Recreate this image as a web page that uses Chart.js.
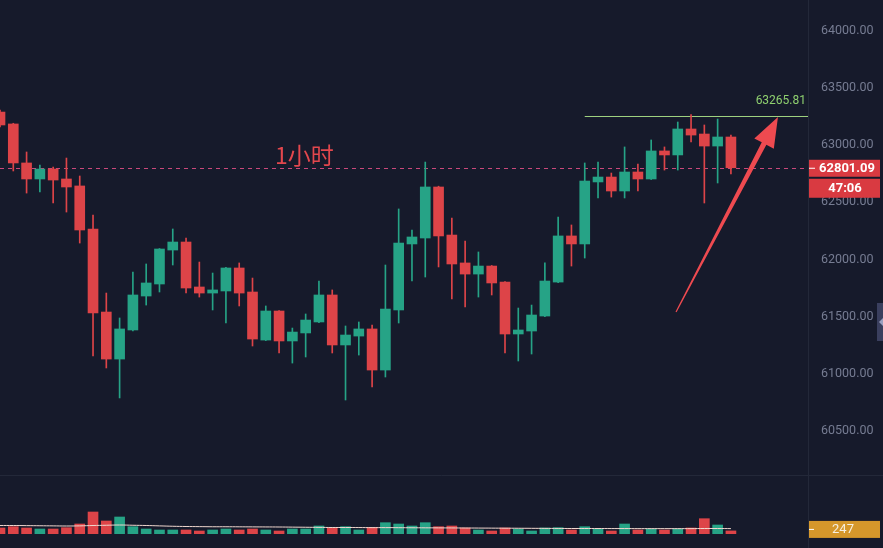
<!DOCTYPE html>
<html>
<head>
<meta charset="utf-8">
<script src="https://cdn.jsdelivr.net/npm/chart.js@4.4.1/dist/chart.umd.min.js"></script>
<style>
  html, body { margin: 0; padding: 0; background: #161a2b; }
  #wrap { width: 883px; height: 548px; position: relative; }
</style>
</head>
<body>
<div id="wrap"><canvas id="kline" width="883" height="548"></canvas></div>
<script>
// hourly candles
var opens  = [63288,63184,62843,62703,62790,62703,62642,62266,61540,61129,61383,61680,61785,62082,62152,61759,61706,61724,61925,61715,61295,61549,61287,61357,61453,61689,61252,61330,61392,61033,61558,62135,62187,62633,62213,61969,61872,61942,61802,61348,61374,61505,61802,62205,62135,62677,62720,62598,62764,62703,62948,62913,63140,63096,62991,63070];
var highs  = [63306,63190,62939,62825,62808,62886,62729,62388,61706,61488,61890,61960,62095,62266,62187,61977,61881,61930,61969,61837,61593,61553,61400,61523,61811,61733,61418,61453,61427,61951,62441,62257,62851,62640,62362,62161,62065,61947,61806,61575,61601,61969,62371,62301,62843,62851,62755,62983,62834,63044,62983,63201,63265.81,63175,63227,63087];
var lows   = [63157,62773,62580,62589,62493,62414,62143,61156,61051,60789,61375,61601,61715,61951,61706,61671,61558,61444,61593,61243,61290,61182,61094,61147,61448,61182,60771,61164,60885,60972,61444,61811,61846,61934,61654,61584,61671,61689,61182,61112,61173,61500,61797,61942,62012,62537,62545,62537,62598,62698,62781,62781,63026,62493,62668,62747];
var closes = [63175,62843,62703,62790,62694,62633,62257,61532,61129,61392,61689,61794,62091,62152,61750,61706,61733,61925,61706,61304,61549,61287,61365,61470,61689,61252,61339,61392,61033,61566,62143,62196,62633,62205,61960,61872,61942,61794,61348,61383,61514,61811,62205,62135,62685,62720,62598,62764,62703,62948,62913,63140,63087,62991,63070,62801.09];
var volumes = [480,585,480,400,400,505,800,1760,1040,1360,585,400,320,320,320,240,320,400,320,400,320,240,400,400,640,505,585,320,535,905,800,640,905,585,640,480,320,240,480,400,240,480,505,320,585,400,240,800,320,400,320,400,480,1225,720,247];
var volMA = [680,680,670,660,650,640,650,680,700,720,700,680,650,620,600,590,580,580,575,570,565,560,550,540,530,520,520,515,510,510,505,500,495,490,485,480,475,470,465,460,455,450,445,440,440,440,435,435,430,430,430,430,430,440,440,430];
var priceTicks = [60500,61000,61500,62000,62500,63000,63500,64000];

var lastPrice = 62801.09;
var markHigh = 63265.81;
var countdown = '47:06';

var up = '#26a386';
var down = '#dd4448';

var idx = opens.map(function (o, i) { return i; });
function colorOf(i) { return closes[i] >= opens[i] ? up : down; }

var overlay = {
  id: 'overlay',
  beforeDatasetsDraw: function (chart) {
    var ctx = chart.ctx, a = chart.chartArea;
    var y = chart.scales.y, x = chart.scales.x;
    ctx.save();
    // panel separators
    ctx.strokeStyle = '#232839';
    ctx.lineWidth = 1;
    ctx.beginPath();
    ctx.moveTo(0, 475.5); ctx.lineTo(883, 475.5);
    ctx.moveTo(a.right + 0.5, 0); ctx.lineTo(a.right + 0.5, 548);
    ctx.stroke();
    // last price dashed line
    var py = Math.round(y.getPixelForValue(lastPrice)) + 0.5;
    ctx.strokeStyle = '#c9487a';
    ctx.setLineDash([4, 4]);
    ctx.beginPath(); ctx.moveTo(a.left, py); ctx.lineTo(a.right, py); ctx.stroke();
    ctx.setLineDash([]);
    // high line
    var hy = Math.round(y.getPixelForValue(markHigh)) + 1.5;
    ctx.strokeStyle = '#9ed17f';
    ctx.beginPath(); ctx.moveTo(x.getPixelForValue(44), hy); ctx.lineTo(a.right, hy); ctx.stroke();
    ctx.fillStyle = '#8fd06f';
    ctx.font = '12px Roboto';
    ctx.textAlign = 'right';
    ctx.textBaseline = 'middle';
    ctx.fillText(markHigh.toFixed(2), a.right - 2, hy - 16);
    // label
    ctx.fillStyle = '#e3474d';
    ctx.font = '23px "Noto Sans CJK SC"';
    ctx.textAlign = 'left';
    ctx.fillText('1小时', 275, 155);
    ctx.restore();
  },
  afterDraw: function (chart) {
    var ctx = chart.ctx, a = chart.chartArea;
    var y = chart.scales.y, x = chart.scales.x, v = chart.scales.v;
    ctx.save();
    // arrow
    var tx = x.getPixelForValue(50.87), ty = y.getPixelForValue(61540);
    var hx = x.getPixelForValue(58.54), hy = y.getPixelForValue(63245);
    var dx = hx - tx, dy = hy - ty, len = Math.sqrt(dx * dx + dy * dy);
    var ux = dx / len, uy = dy / len, nx = -uy, ny = ux;
    var bx = hx - ux * 30, by = hy - uy * 30;
    ctx.fillStyle = '#ee4a50';
    ctx.beginPath();
    ctx.moveTo(tx - nx * 0.6, ty - ny * 0.6);
    ctx.lineTo(bx - nx * 2.6, by - ny * 2.6);
    ctx.lineTo(bx - nx * 11, by - ny * 11);
    ctx.lineTo(hx, hy);
    ctx.lineTo(bx + nx * 11, by + ny * 11);
    ctx.lineTo(bx + nx * 2.6, by + ny * 2.6);
    ctx.lineTo(tx + nx * 0.6, ty + ny * 0.6);
    ctx.closePath();
    ctx.fill();

    // price tag + countdown
    var py = y.getPixelForValue(lastPrice);
    ctx.fillStyle = '#d93a41';
    ctx.fillRect(a.right + 1, py - 8, 71, 17);
    ctx.fillRect(a.right + 1, py + 11, 71, 19);
    ctx.strokeStyle = '#ffffff';
    ctx.beginPath(); ctx.moveTo(a.right + 1, py + 0.5); ctx.lineTo(a.right + 7, py + 0.5); ctx.stroke();
    ctx.fillStyle = '#ffffff';
    ctx.font = 'bold 13px Roboto';
    ctx.textAlign = 'center';
    ctx.textBaseline = 'middle';
    ctx.fillText(lastPrice.toFixed(2), a.right + 39, py + 1);
    ctx.fillText(countdown, a.right + 37, py + 21);

    // volume tag
    var vy = v.getPixelForValue(volumes[volumes.length - 1]);
    ctx.fillStyle = '#d5972b';
    ctx.fillRect(a.right + 1, vy - 10, 71, 17);
    ctx.strokeStyle = '#ffffff';
    ctx.beginPath(); ctx.moveTo(a.right + 1, vy - 1.5); ctx.lineTo(a.right + 6, vy - 1.5); ctx.stroke();
    ctx.fillStyle = '#f6efe0';
    ctx.font = '13px Roboto';
    ctx.fillText(String(volumes[volumes.length - 1]), a.right + 35, vy - 1);

    // side handle
    ctx.fillStyle = '#3a3f5e';
    ctx.fillRect(877, 303, 6, 38);
    ctx.fillStyle = '#9aa0c0';
    ctx.beginPath(); ctx.moveTo(879, 322); ctx.lineTo(883, 318); ctx.lineTo(883, 326); ctx.closePath(); ctx.fill();
    ctx.restore();
  }
};

var chart = new Chart(document.getElementById('kline'), {
  data: {
    datasets: [
      {
        type: 'bar', label: 'volume', yAxisID: 'v', grouped: false,
        data: idx.map(function (i) { return { x: i, y: volumes[i] }; }),
        backgroundColor: idx.map(function (i) { return colorOf(i); }),
        barThickness: 10, order: 3
      },
      {
        type: 'line', label: 'vol ma', yAxisID: 'v',
        data: idx.map(function (i) { return { x: i, y: volMA[i] }; }),
        borderColor: '#f1d8cf', borderWidth: 1, pointRadius: 0, tension: 0.4, order: 2
      },
      {
        type: 'bar', label: 'wick', yAxisID: 'y', grouped: false,
        data: idx.map(function (i) { return { x: i, y: [lows[i], highs[i]] }; }),
        backgroundColor: idx.map(function (i) { return colorOf(i); }),
        barThickness: 1, order: 1
      },
      {
        type: 'bar', label: 'body', yAxisID: 'y', grouped: false,
        data: idx.map(function (i) { return { x: i, y: [opens[i], closes[i]] }; }),
        backgroundColor: idx.map(function (i) { return colorOf(i); }),
        barThickness: 10, minBarLength: 1, order: 0
      }
    ]
  },
  options: {
    responsive: false,
    devicePixelRatio: 1,
    animation: false,
    layout: { padding: { left: 0, right: 0, top: 0, bottom: 14 } },
    plugins: { legend: { display: false }, tooltip: { enabled: false } },
    scales: {
      x: { type: 'linear', min: 0, max: 60.8, offset: false, display: false },
      y: {
        position: 'right', min: 59599.7, max: 64267.5,
        grid: { display: false, drawTicks: false },
        border: { display: false },
        ticks: {
          padding: 13, color: '#767c92',
          font: { family: 'Roboto', size: 12.5 },
          callback: function (val) { return Number(val).toFixed(2); }
        },
        afterBuildTicks: function (s) { s.ticks = priceTicks.map(function (t) { return { value: t }; }); },
        afterFit: function (s) { s.width = 75; s.paddingTop = 0; s.paddingBottom = 0; }
      },
      v: { position: 'left', min: 0, max: 42720, display: false }
    }
  },
  plugins: [overlay]
});
</script>
</body>
</html>
